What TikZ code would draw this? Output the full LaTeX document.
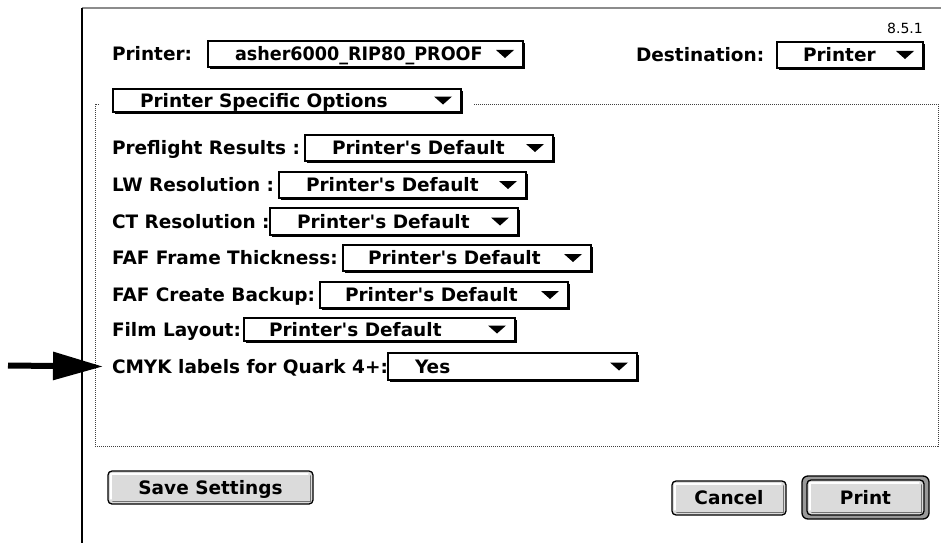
\documentclass[tikz,border=0pt]{standalone}
\usepackage{fontspec}
\setmainfont{DejaVu Sans}[Ligatures=TeXOff]
\usetikzlibrary{arrows.meta}
\tikzset{
  txt/.style={inner sep=0pt, outer sep=0pt, text height=13.5pt, text depth=0pt, anchor=west,
    font=\fontsize{18.5}{20}\selectfont\bfseries},
  lbl/.style={txt},
  popbox/.style={draw=black, fill=white, line width=1.3pt, inner sep=0pt, outer sep=0pt},
  grp/.style={draw=black!75, line width=0.9pt, dash pattern=on 1pt off 1pt},
  btn/.style={draw=black, fill=black!14, line width=1.3pt, rounded corners=4pt},
  ring/.style={draw=black, fill=black!40, line width=1.3pt, rounded corners=6pt},
}
\newcommand{\popupbox}[7]{%
  \fill[black] ({#2+2},{#3+2}) rectangle ({#4+2},{#5+2});
  \node[popbox, anchor=north west, minimum width={(#4-#2)*1pt}, minimum height={(#5-#3)*1pt}] (#1) at (#2,#3) {};
  \node[txt] (#1-t) at ({#2+#7},{(#3+#5)/2}) {#6};
  \fill[black] ({#4-27},{(#3+#5)/2-4}) -- ({#4-9},{(#3+#5)/2-4}) -- ({#4-18},{(#3+#5)/2+4}) -- cycle;
}
\newcommand{\macbutton}[6]{%
  % name, x1,y1,x2,y2, text
  \draw[btn] (#2,#3) rectangle (#4,#5);
  \draw[white, line width=1.4pt, line cap=round] ({#2+3},{#5-5}) -- ({#2+3},{#3+3}) -- ({#4-5},{#3+3});
  \draw[black!55, line width=1.6pt, line cap=round] ({#2+5},{#5-2.5}) -- ({#4-2.5},{#5-2.5}) -- ({#4-2.5},{#3+5});
  \node[txt, anchor=center] (#1) at ({(#2+#4)/2},{(#3+#5)/2}) {#6};
}
\begin{document}
\begin{tikzpicture}[x=1pt,y=-1pt]
\useasboundingbox (0,0) rectangle (941,543);
\fill[white] (0,0) rectangle (941,543);
% window edges
\draw[black!45, line width=1.5pt] (82,8) -- (941,8);
\draw[black, line width=2pt] (82,8) -- (82,543);
% version
\node[inner sep=0pt, anchor=east, font=\fontsize{14}{14}\selectfont] (ver) at (923,28.5) {8.5.1};
% printer row
\node[lbl] (printerlbl) at (112,54) {Printer:};
\popupbox{printerpop}{208}{41}{523}{67}{\scalebox{0.95}[1]{asher6000\_RIP80\_PROOF}}{27}
\node[lbl] (destlbl) at (636,55) {Destination:};
\popupbox{destpop}{777}{42}{923}{68}{Printer}{26}
% group box
\draw[grp] (99,104) -- (95,104) -- (95,446) -- (938,446) -- (938,104) -- (474,104);
\popupbox{psopop}{113}{89}{461}{112}{Printer Specific Options}{27}
% option rows
\node[lbl] (pflbl) at (112,148) {Preflight Results :};
\popupbox{pfpop}{305}{135}{553}{161}{Printer's Default}{27}
\node[lbl] (lwlbl) at (112,185) {LW Resolution :};
\popupbox{lwpop}{279}{172}{526}{198}{Printer's Default}{27}
\node[lbl] (ctlbl) at (112,221.5) {CT Resolution :};
\popupbox{ctpop}{270}{208}{518}{235}{Printer's Default}{27}
\node[lbl] (ftlbl) at (112,258) {FAF Frame Thickness:};
\popupbox{ftpop}{343}{245}{591}{271}{Printer's Default}{25}
\node[lbl] (cblbl) at (112,295) {FAF Create Backup:};
\popupbox{cbpop}{320}{282}{568}{308}{Printer's Default}{25}
\node[lbl] (fllbl) at (112,329.5) {Film Layout:};
\popupbox{flpop}{244}{318}{515}{341}{Printer's Default}{25}
\node[lbl] (cmyklbl) at (112,366.5) {CMYK labels for Quark 4+:};
\popupbox{cmykpop}{388}{353}{637}{380}{Yes}{27}
% arrow
\coordinate (arrowstart) at (8,365.5);
\draw[line width=6pt, -{Triangle[length=50pt,width=27pt]}] (arrowstart) -- ([xshift=-9pt]cmyklbl.west);
% buttons
\macbutton{savebtn}{108}{471}{313}{504}{Save Settings}
\macbutton{cancelbtn}{672}{481}{786}{515}{Cancel}
\draw[ring] (802,476) rectangle (929,519);
\macbutton{printbtn}{807}{480}{924}{515}{Print}
\end{tikzpicture}
\end{document}
